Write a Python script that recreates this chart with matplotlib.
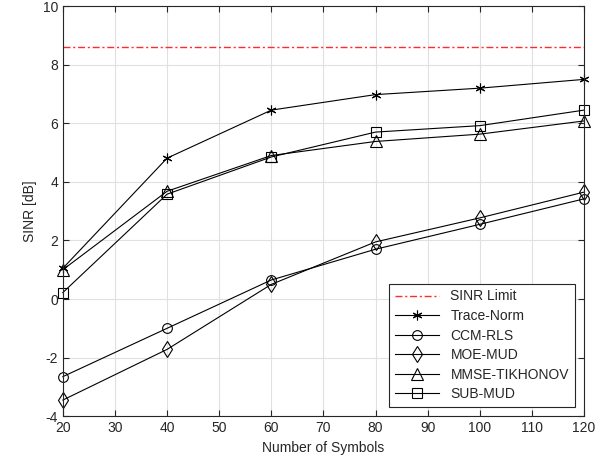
import matplotlib
matplotlib.use("Agg")
import matplotlib.pyplot as plt

plt.rcParams['font.family'] = ['Liberation Sans', 'DejaVu Sans']
plt.rcParams['axes.unicode_minus'] = False

symbols = [20, 40, 60, 80, 100, 120]
sinr_limit = 8.6
trace_norm = [1.05, 4.81, 6.45, 6.98, 7.2, 7.5]
ccm_rls = [-2.65, -1.0, 0.65, 1.7, 2.55, 3.42]
moe_mud = [-3.45, -1.72, 0.5, 1.95, 2.77, 3.65]
mmse_tikhonov = [1.0, 3.68, 4.9, 5.38, 5.63, 6.08]
sub_mud = [0.22, 3.58, 4.85, 5.7, 5.92, 6.45]

fig = plt.figure(figsize=(6.16, 4.74), dpi=100)
ax = fig.add_axes([0.102, 0.122, 0.846, 0.865])

ax.axhline(sinr_limit, color='#ff2a2a', linestyle=(0, (5, 2, 1.5, 2)), linewidth=1.0, label='SINR Limit')
kw = dict(color='black', linewidth=0.8, markerfacecolor='none', markeredgecolor='black',
          markeredgewidth=0.8, clip_on=False)
ax.plot(symbols, trace_norm, marker=(6, 2, 0), markersize=7, label='Trace-Norm', **kw)
ax.plot(symbols, ccm_rls, marker='o', markersize=7, label='CCM-RLS', **kw)
ax.plot(symbols, moe_mud, marker='d', markersize=8, label='MOE-MUD', **kw)
ax.plot(symbols, mmse_tikhonov, marker='^', markersize=8, label='MMSE-TIKHONOV', **kw)
ax.plot(symbols, sub_mud, marker='s', markersize=6.5, label='SUB-MUD', **kw)

ax.set_xlim(20, 120)
ax.set_ylim(-4, 10)
ax.set_xticks(range(20, 121, 10))
ax.set_yticks(range(-4, 11, 2))
ax.grid(True, color='#e0e0e0', linewidth=0.8)
ax.set_axisbelow(True)
ax.tick_params(direction='in', top=True, right=True, labelsize=10, length=4, color='#262626',
               labelcolor='#262626')
for s in ax.spines.values():
    s.set_color('#262626')
    s.set_linewidth(0.8)
ax.set_xlabel('Number of Symbols', fontsize=10, color='#262626')
ax.set_ylabel('SINR [dB]', fontsize=10, color='#262626')
leg = ax.legend(loc='lower right', fontsize=10, fancybox=False, edgecolor='#262626',
                framealpha=1, borderaxespad=0.68, handlelength=3.2, labelspacing=0.4)
leg.get_frame().set_linewidth(0.8)
for t in leg.get_texts():
    t.set_color('#262626')

fig.savefig('out.png', dpi=100)
